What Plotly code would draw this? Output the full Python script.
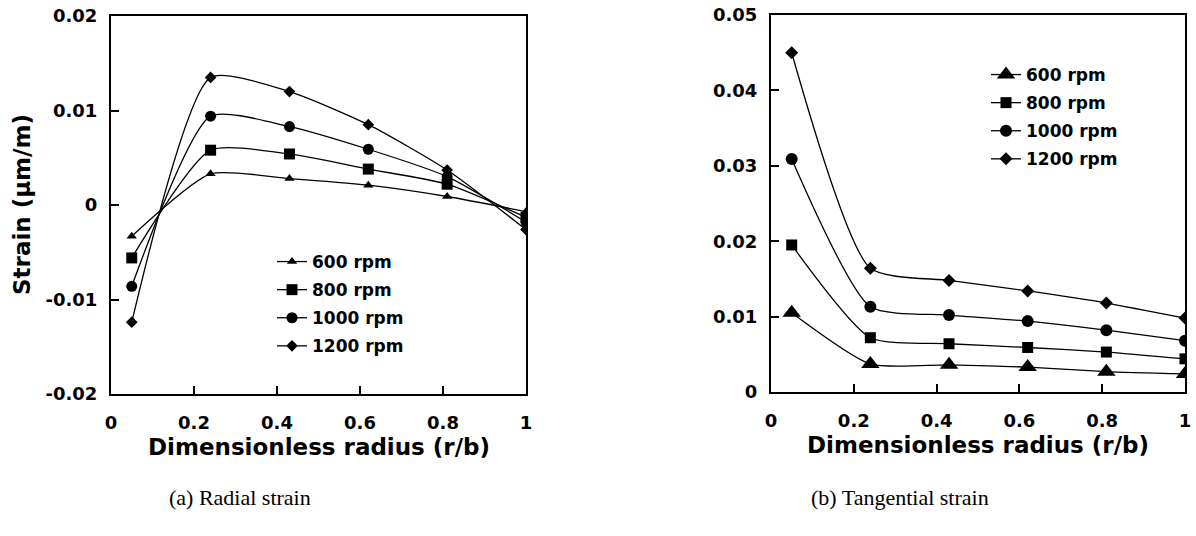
import plotly.graph_objects as go

# ---------------- data ----------------
radius = [0.05, 0.24, 0.43, 0.62, 0.81, 1.0]
speeds = ["600 rpm", "800 rpm", "1000 rpm", "1200 rpm"]

radial_600 = [-0.0033, 0.0033, 0.0028, 0.0021, 0.0009, -0.0007]
radial_800 = [-0.0056, 0.0058, 0.0054, 0.0038, 0.0022, -0.0013]
radial_1000 = [-0.0086, 0.0094, 0.0083, 0.0059, 0.0030, -0.0018]
radial_1200 = [-0.0124, 0.0135, 0.0120, 0.0085, 0.0037, -0.0026]

tang_600 = [0.0105, 0.0037, 0.0036, 0.0033, 0.0027, 0.0024]
tang_800 = [0.0195, 0.0072, 0.0064, 0.0059, 0.0053, 0.0044]
tang_1000 = [0.0309, 0.0113, 0.0102, 0.0094, 0.0082, 0.0068]
tang_1200 = [0.0450, 0.0164, 0.0148, 0.0134, 0.0118, 0.0098]

x_tickvals = [0, 0.2, 0.4, 0.6, 0.8, 1]
x_ticktext = ["0", "0.2", "0.4", "0.6", "0.8", "1"]
ya_tickvals = [-0.02, -0.01, 0, 0.01, 0.02]
ya_ticktext = ["-0.02", "-0.01", "0", "0.01", "0.02"]
yb_tickvals = [0, 0.01, 0.02, 0.03, 0.04, 0.05]
yb_ticktext = ["0", "0.01", "0.02", "0.03", "0.04", "0.05"]

# ---------------- layout helpers (page pixels -> paper) ----------------
W, H = 1196, 536


def PX(px):
    return px / W


def PY(py):
    return 1 - py / H


symbols = ["triangle-up", "square", "circle", "diamond"]
sizes_a = [9, 11, 11, 9]
sizes_b = [16, 11, 12, 10]
SANS = "DejaVu Sans"
SMOOTH = 0.6

fig = go.Figure()

radial = [radial_600, radial_800, radial_1000, radial_1200]
tang = [tang_600, tang_800, tang_1000, tang_1200]

for i, name in enumerate(speeds):
    fig.add_trace(go.Scatter(
        x=radius, y=radial[i], name=name, mode="lines+markers",
        line=dict(color="black", width=1.3, shape="spline", smoothing=SMOOTH),
        marker=dict(symbol=symbols[i], size=sizes_a[i], color="black"),
        xaxis="x", yaxis="y", legend="legend", legendgroup="a%d" % i))
for i, name in enumerate(speeds):
    fig.add_trace(go.Scatter(
        x=radius, y=tang[i], name=name, mode="lines+markers",
        line=dict(color="black", width=1.3, shape="spline", smoothing=SMOOTH),
        marker=dict(symbol=symbols[i], size=sizes_b[i], color="black"),
        xaxis="x2", yaxis="y2", legend="legend2", legendgroup="b%d" % i))

tickfont = dict(family=SANS, size=18, color="black", weight="bold")
axis_common = dict(showline=True, mirror=True, linecolor="black", linewidth=2,
                   showgrid=False, zeroline=False, ticks="inside", ticklen=8,
                   tickwidth=1.5, tickcolor="black", tickfont=tickfont,
                   automargin=False)
legfont = dict(family=SANS, size=17, color="black", weight="bold")

fig.update_layout(
    template="none",
    width=W, height=H,
    margin=dict(l=0, r=0, t=0, b=0, pad=0),
    paper_bgcolor="white", plot_bgcolor="white",
    xaxis=dict(domain=[PX(111), PX(526)], range=[0, 1], tickvals=x_tickvals,
               ticktext=x_ticktext, anchor="y", ticklabelstandoff=11, **axis_common),
    yaxis=dict(domain=[PY(394), PY(16)], range=[-0.02, 0.02],
               tickvals=ya_tickvals, ticktext=ya_ticktext, anchor="x",
               ticklabelstandoff=8, **axis_common),
    xaxis2=dict(domain=[PX(771), PX(1185)], range=[0, 1], tickvals=x_tickvals,
                ticktext=x_ticktext, anchor="y2", ticklabelstandoff=11, **axis_common),
    yaxis2=dict(domain=[PY(392), PY(15)], range=[0, 0.05],
                tickvals=yb_tickvals, ticktext=yb_ticktext, anchor="x2",
                ticklabelstandoff=8, **axis_common),
    legend=dict(x=PX(272), y=PY(244), xanchor="left", yanchor="top",
                bgcolor="rgba(0,0,0,0)", tracegroupgap=3, itemwidth=30,
                font=legfont),
    legend2=dict(x=PX(986), y=PY(57), xanchor="left", yanchor="top",
                 bgcolor="rgba(0,0,0,0)", tracegroupgap=3, itemwidth=30,
                 font=legfont),
    showlegend=True,
)

title_font = dict(family=SANS, size=23, color="black", weight="bold")
cap_font = dict(family="Liberation Serif", size=22, color="black")
ann = dict(xref="paper", yref="paper", showarrow=False, xanchor="center", yanchor="middle")
fig.add_annotation(text="Dimensionless radius (r/b)", x=PX((111 + 526) / 2), y=PY(447),
                   font=title_font, **ann)
fig.add_annotation(text="Dimensionless radius (r/b)", x=PX((771 + 1185) / 2), y=PY(445),
                   font=title_font, **ann)
fig.add_annotation(text="Strain (\u03bcm/m)", x=PX(22), y=PY(205), textangle=-90,
                   font=title_font, **ann)
fig.add_annotation(text="(a) Radial strain", x=PX(240), y=PY(497), font=cap_font, **ann)
fig.add_annotation(text="(b) Tangential strain", x=PX(900), y=PY(497), font=cap_font, **ann)

# remove the default 8px page margin so the figure fills the window exactly
fig.write_html("out.html", config={"displayModeBar": False},
               post_script="document.body.style.margin='0';")
